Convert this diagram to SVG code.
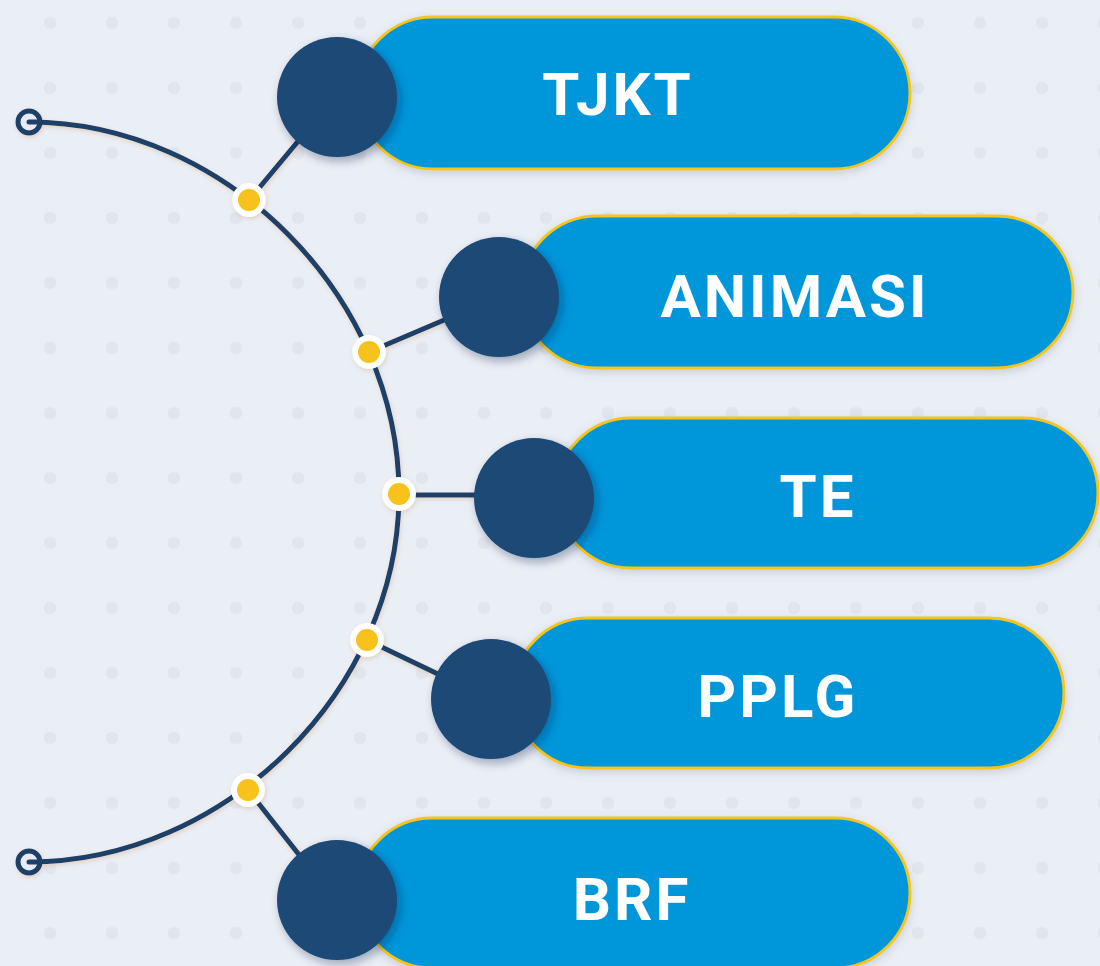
<svg xmlns="http://www.w3.org/2000/svg" width="1100" height="966" viewBox="0 0 1100 966">
  <defs>
    <pattern id="dots" x="19" y="-9.5" width="62" height="65" patternUnits="userSpaceOnUse">
      <rect x="25" y="26.5" width="12" height="12" rx="5" fill="#e1e5ed"/>
    </pattern>
    <filter id="sh" x="-30%" y="-30%" width="160%" height="160%">
      <feDropShadow dx="3" dy="4" stdDeviation="5" flood-color="#0b2340" flood-opacity="0.35"/>
    </filter>
    <filter id="pillsh" x="-10%" y="-20%" width="120%" height="140%">
      <feDropShadow dx="0" dy="3" stdDeviation="4" flood-color="#5a6a80" flood-opacity="0.25"/>
    </filter>
    <filter id="glow" x="-20%" y="-20%" width="140%" height="140%">
      <feDropShadow dx="1" dy="2" stdDeviation="2" flood-color="#c9a070" flood-opacity="0.35"/>
    </filter>
  </defs>
  <style>
    .pill { fill: #0096da; stroke: #f6c51e; stroke-width: 3; filter: url(#pillsh); }
    .node { fill: #1c4876; filter: url(#sh); }
    .lbl { font-family: Roboto, "Liberation Sans", sans-serif; font-weight: 700; font-size: 60px; fill: #ffffff; text-anchor: middle; letter-spacing: 3px; }
    .wire { fill: none; stroke: #1b3f68; stroke-width: 5; stroke-linecap: round; }
    .halo { fill: #ffffff; }
    .dot { fill: #f7c21b; }
    .end { fill: #e6ebf4; stroke: #1b3f68; stroke-width: 5; }
  </style>

  <rect width="1100" height="966" fill="#eaeef5"/>
  <rect width="1100" height="966" fill="url(#dots)"/>

  <g id="connectors" filter="url(#glow)">
    <path class="wire" d="M29,122 C225,122 399,296 399,494 C399,690 225,862 29,862"/>
    <line class="wire" x1="249" y1="200" x2="320" y2="115"/>
    <line class="wire" x1="369" y1="352" x2="470" y2="309"/>
    <line class="wire" x1="399" y1="495" x2="500" y2="495"/>
    <line class="wire" x1="367" y1="640" x2="465" y2="687"/>
    <line class="wire" x1="248" y1="790" x2="315" y2="875"/>
    <circle class="end" cx="29" cy="122" r="11"/>
    <circle class="end" cx="29" cy="862" r="11"/>
    <line class="wire" x1="29" y1="122" x2="40" y2="122"/>
    <line class="wire" x1="29" y1="862" x2="40" y2="862"/>
    <g id="junctions">
      <circle class="halo" cx="249" cy="200" r="17"/>
      <circle class="dot" cx="249" cy="200" r="11"/>
      <circle class="halo" cx="369" cy="352" r="17"/>
      <circle class="dot" cx="369" cy="352" r="11"/>
      <circle class="halo" cx="399" cy="494" r="17"/>
      <circle class="dot" cx="399" cy="494" r="11"/>
      <circle class="halo" cx="367" cy="640" r="17"/>
      <circle class="dot" cx="367" cy="640" r="11"/>
      <circle class="halo" cx="248" cy="790" r="17"/>
      <circle class="dot" cx="248" cy="790" r="11"/>
    </g>
  </g>

  <g id="node-tjkt">
    <rect class="pill" x="357" y="17" width="553" height="152" rx="76"/>
    <circle class="node" cx="337" cy="97" r="60"/>
    <text class="lbl" x="618" y="115">TJKT</text>
  </g>
  <g id="node-animasi">
    <rect class="pill" x="521" y="216" width="552" height="152" rx="76"/>
    <circle class="node" cx="499" cy="297" r="60"/>
    <text class="lbl" x="795" y="317">ANIMASI</text>
  </g>
  <g id="node-te">
    <rect class="pill" x="556" y="418" width="542" height="150" rx="75"/>
    <circle class="node" cx="534" cy="498" r="60"/>
    <text class="lbl" x="818" y="517">TE</text>
  </g>
  <g id="node-pplg">
    <rect class="pill" x="513" y="618" width="551" height="150" rx="75"/>
    <circle class="node" cx="491" cy="699" r="60"/>
    <text class="lbl" x="778" y="717">PPLG</text>
  </g>
  <g id="node-brf">
    <rect class="pill" x="357" y="818" width="553" height="150" rx="75"/>
    <circle class="node" cx="337" cy="900" r="60"/>
    <text class="lbl" x="632" y="920">BRF</text>
  </g>
</svg>
